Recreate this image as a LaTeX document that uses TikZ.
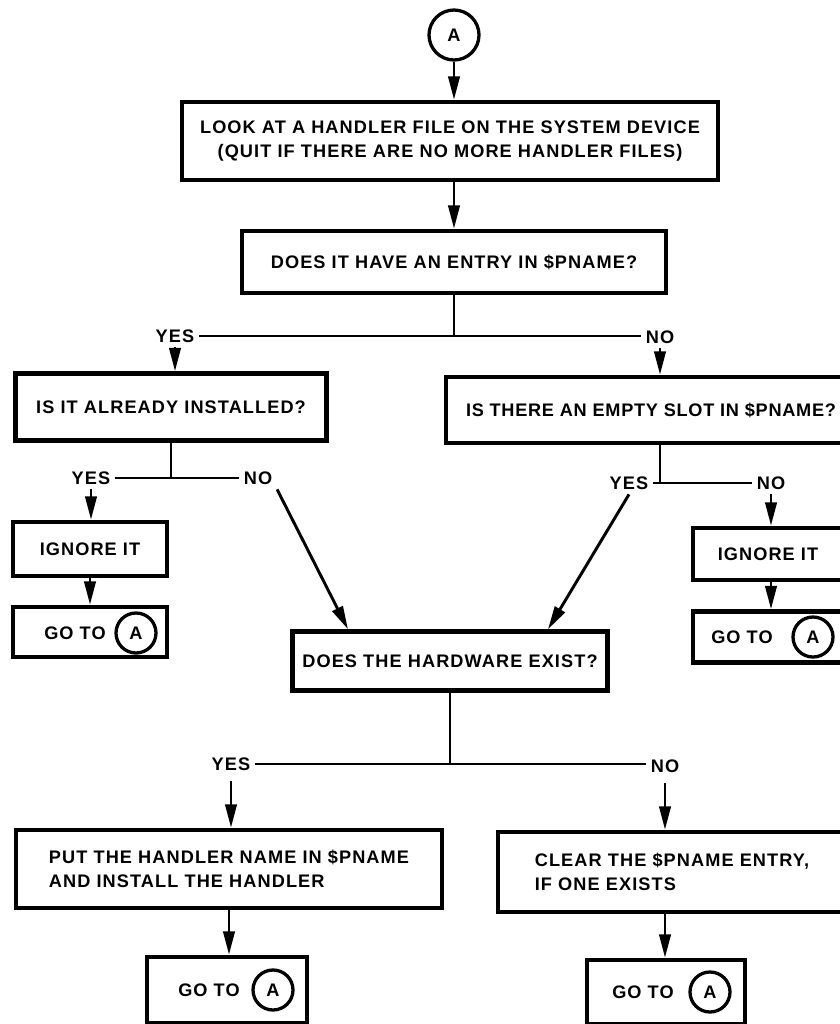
\documentclass[tikz,border=0pt]{standalone}
\usepackage{fontspec}
\setmainfont{Liberation Sans}[LetterSpace=6]
\usepackage{tikz}
\usetikzlibrary{arrows.meta,positioning,calc}
\newlength{\unitpx}
\setlength{\unitpx}{0.03cm}
\newcommand{\chartfont}{\fontsize{15.5}{20.5}\selectfont\bfseries}
\tikzset{
  box/.style  = {draw=black, line width=3.8pt, align=center, inner sep=0pt,
                 font=\chartfont},
  conn/.style = {circle, draw=black, line width=2.8pt, inner sep=0pt,
                 minimum size=40*\unitpx, font=\chartfont},
  lbl/.style  = {inner sep=4pt, font=\chartfont},
  txt/.style  = {inner sep=0pt, font=\chartfont},
  wire/.style = {line width=2.5pt},
  flow/.style = {wire, -{Triangle[length=7mm,width=3.4mm]}},
}

\begin{document}
\begin{tikzpicture}[x=\unitpx, y=-\unitpx]
  \useasboundingbox (0,0) rectangle (840,1024);
  \clip (0,0) rectangle (840,1024);
  % entry point and the first two steps
  \node[conn, minimum size=50*\unitpx] (start) at (454,35) {A};
  \node[box, minimum width=536*\unitpx, minimum height=78*\unitpx] (look) at (450,141)
    {LOOK AT A HANDLER FILE ON THE SYSTEM DEVICE\\(QUIT IF THERE ARE NO MORE HANDLER FILES)};
  \node[box, minimum width=424*\unitpx, minimum height=62*\unitpx] (entry) at (454,262)
    {DOES IT HAVE AN ENTRY IN \$PNAME?};
  \node[lbl] (yes1) at (175,336) {YES};
  \node[lbl] (no1) at (660,337) {NO};
  % second level questions
  \node[box, minimum width=311*\unitpx, minimum height=67*\unitpx] (inst) at (171,407)
    {IS IT ALREADY INSTALLED?};
  \node[box, minimum width=410*\unitpx, minimum height=66*\unitpx,
        font=\chartfont\addfontfeature{LetterSpace=4}] (slot) at (651,410)
    {IS THERE AN EMPTY SLOT IN \$PNAME?};
  \node[lbl] (yes2) at (91,478) {YES};
  \node[lbl] (no2) at (258,478) {NO};
  \node[lbl] (yes3) at (629,483) {YES};
  \node[lbl] (no3) at (771,483) {NO};
  % ignore branches
  \node[box, minimum width=154*\unitpx, minimum height=54*\unitpx] (ign1) at (90,549) {IGNORE IT};
  \node[box, minimum width=154*\unitpx, minimum height=50*\unitpx] (go1) at (90,632) {};
  \node[txt] (go1t) at (75,633) {GO TO};
  \node[conn] (go1a) at (136,633) {A};
  \node[box, minimum width=150*\unitpx, minimum height=52*\unitpx] (ign2) at (768,554) {IGNORE IT};
  \node[box, minimum width=152*\unitpx, minimum height=51*\unitpx] (go2) at (769,637) {};
  \node[txt] (go2t) at (742,637) {GO TO};
  \node[conn] (go2a) at (813,637) {A};
  % hardware check
  \node[box, minimum width=315*\unitpx, minimum height=59*\unitpx] (hw) at (450,661)
    {DOES THE HARDWARE EXIST?};
  \node[lbl] (yes4) at (231,764) {YES};
  \node[lbl] (no4) at (665,766) {NO};
  \node[box, minimum width=426*\unitpx, minimum height=78*\unitpx, align=left] (put) at (229,869)
    {PUT THE HANDLER NAME IN \$PNAME\\AND INSTALL THE HANDLER};
  \node[box, minimum width=348*\unitpx, minimum height=80*\unitpx, align=left] (clr) at (672,872)
    {CLEAR THE \$PNAME ENTRY,\\IF ONE EXISTS};
  \node[box, minimum width=160*\unitpx, minimum height=66*\unitpx] (go3) at (227,990) {};
  \node[txt] (go3t) at (209,990) {GO TO};
  \node[conn] (go3a) at (273,990) {A};
  \node[box, minimum width=158*\unitpx, minimum height=64*\unitpx] (go4) at (666,992) {};
  \node[txt] (go4t) at (643,992) {GO TO};
  \node[conn] (go4a) at (710,992) {A};

  % connectors
  \draw[flow] (start) -- (start |- look.north);
  \draw[flow] (entry |- look.south) -- (entry);
  \draw[wire] (entry.south) -- (entry.south |- yes1);
  \draw[wire] (yes1.east) -- (yes1.east -| no1.west);
  \draw[flow] (yes1.south) -- (yes1.south |- inst.north);
  \draw[flow] (no1.south) -- (no1.south |- slot.north);
  \draw[wire] (inst.south) -- (inst.south |- yes2);
  \draw[wire] (yes2.east) -- (no2.west);
  \draw[flow] (yes2.south) -- (yes2.south |- ign1.north);
  \draw[flow] (ign1) -- (go1);
  \draw[flow] (no2.south east) -- ($(hw.north)+(-102,0)$);
  \draw[wire] (no1 |- slot.south) -- (no1 |- yes3);
  \draw[wire] (yes3.east) -- (no3.west);
  \draw[flow] (yes3.south) -- ($(hw.north)+(98,0)$);
  \draw[flow] (no3.south) -- (no3.south |- ign2.north);
  \draw[flow] (no3 |- ign2.south) -- (no3 |- go2.north);
  \draw[wire] (hw.south) -- (hw.south |- yes4);
  \draw[wire] (yes4.east) -- (yes4.east -| no4.west);
  \draw[flow, shorten <=5pt] (yes4.south) -- (yes4.south |- put.north);
  \draw[flow, shorten <=5pt] (no4.south) -- (no4.south |- clr.north);
  \draw[flow] (put.south) -- (put.south |- go3.north);
  \draw[flow] (no4 |- clr.south) -- (no4 |- go4.north);
\end{tikzpicture}
\end{document}
